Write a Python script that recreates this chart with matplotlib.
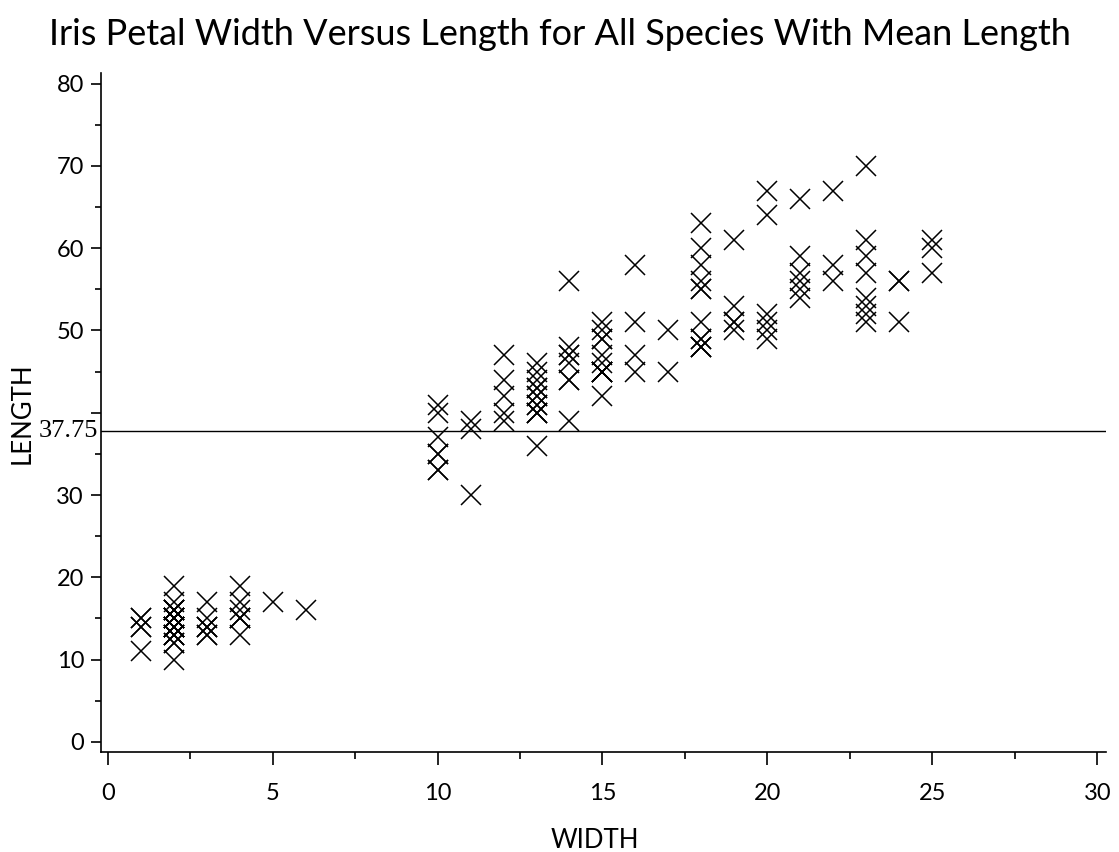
import matplotlib.pyplot as plt
import numpy as np

setosa_width = [2, 2, 2, 2, 2, 4, 3, 2, 2, 1, 2, 2, 1, 1, 2, 4, 4, 3, 3, 3,
                2, 4, 2, 5, 2, 2, 4, 2, 2, 2, 2, 4, 1, 2, 2, 2, 2, 1, 2, 2,
                3, 3, 2, 6, 4, 3, 2, 2, 2, 2]
setosa_length = [14, 14, 13, 15, 14, 17, 14, 15, 14, 15, 15, 16, 14, 11, 12, 15, 13, 14, 17, 15,
                 17, 15, 10, 17, 19, 16, 16, 15, 14, 16, 16, 15, 15, 14, 15, 12, 13, 14, 13, 15,
                 13, 13, 13, 16, 19, 14, 16, 14, 15, 14]

versicolor_width = [14, 15, 15, 13, 15, 13, 16, 10, 13, 14, 10, 15, 10, 14, 13, 14, 15, 10, 15, 11,
                    18, 13, 15, 12, 13, 14, 14, 17, 15, 10, 11, 10, 12, 16, 15, 16, 15, 13, 13, 13,
                    12, 14, 12, 10, 13, 12, 13, 13, 11, 13]
versicolor_length = [47, 45, 49, 40, 46, 45, 47, 33, 46, 39, 35, 42, 40, 47, 36, 44, 45, 41, 45, 39,
                     48, 40, 49, 47, 43, 44, 48, 50, 45, 35, 38, 37, 39, 51, 45, 45, 47, 44, 41, 40,
                     44, 46, 40, 33, 42, 42, 42, 43, 30, 41]

virginica_width = [25, 19, 21, 18, 22, 21, 17, 18, 18, 25, 20, 19, 21, 20, 24, 23, 18, 22, 23, 15,
                   23, 20, 20, 18, 21, 18, 18, 18, 21, 16, 19, 20, 22, 15, 14, 23, 24, 18, 18, 21,
                   24, 23, 19, 23, 25, 23, 19, 20, 23, 18]
virginica_length = [60, 51, 59, 56, 58, 66, 45, 63, 58, 61, 51, 53, 55, 50, 51, 53, 55, 67, 70, 50,
                    57, 49, 67, 49, 57, 60, 48, 49, 56, 58, 61, 64, 56, 51, 56, 61, 56, 55, 48, 54,
                    56, 51, 51, 59, 57, 52, 50, 52, 54, 51]

mean_length = 37.75
y_labels = ['0', '10', '20', '30', '', '50', '60', '70', '80']

width = np.array(setosa_width + versicolor_width + virginica_width)
length = np.array(setosa_length + versicolor_length + virginica_length)

plt.rcParams['font.family'] = ['Lato', 'DejaVu Sans']

fig = plt.figure(figsize=(11.19, 8.52), dpi=100)
ax = fig.add_axes([0.090, 0.117, 0.898, 0.797])

ax.plot(width, length, linestyle='none', marker='x', markersize=15,
        markeredgewidth=1.1, color='black')
ax.axhline(mean_length, color='black', linewidth=1.0)
ax.annotate(f'{mean_length:.2f}', xy=(0, mean_length),
            xycoords=ax.get_yaxis_transform(), xytext=(-2, 0),
            textcoords='offset points', ha='right', va='center',
            fontsize=19, family='Liberation Serif')

ax.set_xlim(-0.21, 30.25)
ax.set_ylim(-1.26, 81.25)
ax.set_xticks(np.arange(0, 31, 5))
ax.set_xticks(np.arange(2.5, 30, 5), minor=True)
ax.set_yticks(np.arange(0, 81, 10))
ax.set_yticklabels(y_labels)
ax.set_yticks(np.arange(5, 80, 10), minor=True)
ax.tick_params(axis='both', which='major', length=7, width=1.2, labelsize=17, pad=5)
ax.tick_params(axis='both', which='minor', length=4, width=1.2)
ax.tick_params(axis='x', which='major', length=9, pad=13)
ax.tick_params(axis='x', which='minor', length=5)

for side in ['top', 'right']:
    ax.spines[side].set_visible(False)
for side in ['left', 'bottom']:
    ax.spines[side].set_linewidth(1.2)

ax.set_xlabel('WIDTH', fontsize=18.5)
ax.set_ylabel('LENGTH', fontsize=18.5)
ax.xaxis.set_label_coords(0.492, -0.112)
ax.yaxis.set_label_coords(-0.066, 0.5)
fig.text(0.5, 0.959, 'Iris Petal Width Versus Length for All Species With Mean Length',
         ha='center', va='center', fontsize=26)

fig.savefig('out.png', dpi=100)
